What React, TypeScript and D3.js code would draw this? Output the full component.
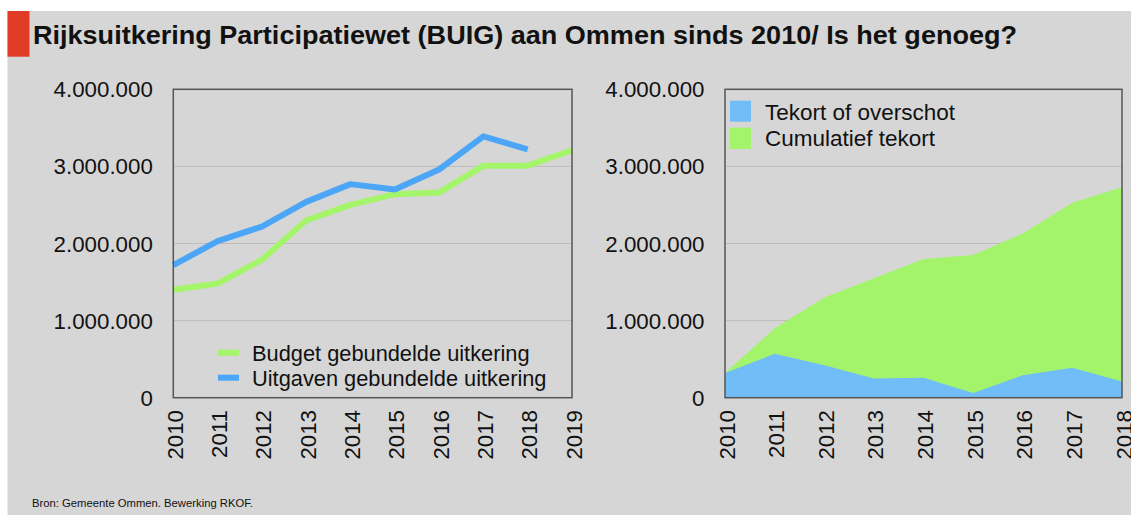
import React from 'react';
import * as d3 from 'd3';

// ---- Data ----
const yearsLeft = [2010, 2011, 2012, 2013, 2014, 2015, 2016, 2017, 2018, 2019];
const budget = [1400000, 1480000, 1790000, 2300000, 2500000, 2640000, 2660000, 3010000, 3010000, 3210000];
const uitgaven = [1720000, 2030000, 2220000, 2540000, 2770000, 2700000, 2960000, 3390000, 3220000];

const yearsRight = [2010, 2011, 2012, 2013, 2014, 2015, 2016, 2017, 2018];
const tekortOverschot = [320000, 570000, 420000, 250000, 260000, 60000, 290000, 390000, 210000];
const cumulatiefTekort = [320000, 900000, 1300000, 1550000, 1800000, 1850000, 2130000, 2530000, 2730000];

const yTicks = [0, 1000000, 2000000, 3000000, 4000000];

const title = 'Rijksuitkering Participatiewet (BUIG) aan Ommen sinds 2010/ Is het genoeg?';
const source = 'Bron: Gemeente Ommen. Bewerking RKOF.';
const legendLeft = ['Budget gebundelde uitkering', 'Uitgaven gebundelde uitkering'];
const legendRight = ['Tekort of overschot', 'Cumulatief tekort'];

// ---- Style ----
const FONT = '"Liberation Sans", Arial, Helvetica, sans-serif';
const BG = '#d6d6d6';
const RED = '#e03c26';
const LINE_GREEN = '#a4f56a';
const LINE_BLUE = '#4ba6f8';
const AREA_GREEN = '#a3f46a';
const AREA_BLUE = '#71bdf7';
const GRID = '#bdbdbd';
const BORDER = '#555555';
const TEXT = '#111111';

const locale = d3.formatLocale({ decimal: ',', thousands: '.', grouping: [3], currency: ['€', ''] });
const fmt = locale.format(',d');

const TOP = 89.3;
const BOTTOM = 397.7;

function Panel({ x0, x1, years, children }: { x0: number; x1: number; years: number[]; children: (x: d3.ScaleLinear<number, number>, y: d3.ScaleLinear<number, number>) => React.ReactNode }) {
  const x = d3.scaleLinear().domain([years[0], years[years.length - 1]]).range([x0, x1]);
  const y = d3.scaleLinear().domain([0, 4000000]).range([BOTTOM, TOP]);
  return (
    <g>
      {yTicks.filter((t) => t > 0 && t < 4000000).map((t) => (
        <line key={t} x1={x0} x2={x1} y1={y(t)} y2={y(t)} stroke={GRID} strokeWidth={1} />
      ))}
      {children(x, y)}
      <rect x={x0} y={TOP} width={x1 - x0} height={BOTTOM - TOP} fill="none" stroke={BORDER} strokeWidth={1.5} />
      {yTicks.map((t) => (
        <text key={t} x={x0 - 20.5} y={y(t)} dy="0.36em" textAnchor="end" fontSize={22.3} fill={TEXT} fontFamily={FONT}>
          {fmt(t)}
        </text>
      ))}
      {years.map((yr) => (
        <text
          key={yr}
          transform={`translate(${x(yr) + 1.5},${410}) rotate(-90)`}
          dy="0.36em"
          textAnchor="end"
          fontSize={22.3}
          fill={TEXT}
          fontFamily={FONT}
        >
          {yr}
        </text>
      ))}
    </g>
  );
}

export default function App() {
  return (
    <svg width={1131} height={515} style={{ position: 'absolute', left: 0, top: 0, background: '#ffffff' }}>
      <rect x={7.5} y={11} width={1131 - 7.5} height={515 - 11} fill={BG} />
      <rect x={7.5} y={11} width={22} height={45.7} fill={RED} />
      <text x={33} y={43.5} fontSize={26} fontWeight="bold" fill={TEXT} fontFamily={FONT} textLength={984} lengthAdjust="spacingAndGlyphs">
        {title}
      </text>

      <Panel x0={173.3} x1={572} years={yearsLeft}>
        {(x, y) => {
          const line = d3.line<number>().x((_, i) => x(yearsLeft[i])).y((d) => y(d));
          return (
            <g>
              <path d={line(budget) || ''} fill="none" stroke={LINE_GREEN} strokeWidth={6} strokeLinejoin="round" />
              <path d={line(uitgaven) || ''} fill="none" stroke={LINE_BLUE} strokeWidth={6} strokeLinejoin="round" />
              <line x1={218} x2={239} y1={352.7} y2={352.7} stroke={LINE_GREEN} strokeWidth={6} />
              <line x1={218} x2={239} y1={377.7} y2={377.7} stroke={LINE_BLUE} strokeWidth={6} />
              <text x={252} y={360.5} fontSize={21.8} fill={TEXT} fontFamily={FONT}>{legendLeft[0]}</text>
              <text x={252} y={385.5} fontSize={21.8} fill={TEXT} fontFamily={FONT}>{legendLeft[1]}</text>
            </g>
          );
        }}
      </Panel>

      <Panel x0={725} x1={1122} years={yearsRight}>
        {(x, y) => {
          const area = d3.area<number>().x((_, i) => x(yearsRight[i])).y0(y(0)).y1((d) => y(d));
          return (
            <g>
              <path d={area(cumulatiefTekort) || ''} fill={AREA_GREEN} />
              <path d={area(tekortOverschot) || ''} fill={AREA_BLUE} />
              <rect x={730} y={100.7} width={21} height={21} fill={AREA_BLUE} />
              <rect x={730} y={127.7} width={21} height={21.3} fill={AREA_GREEN} />
              <text x={765} y={119.5} fontSize={22.5} fill={TEXT} fontFamily={FONT}>{legendRight[0]}</text>
              <text x={765} y={146.3} fontSize={22.5} fill={TEXT} fontFamily={FONT}>{legendRight[1]}</text>
            </g>
          );
        }}
      </Panel>

      <text x={32} y={507} fontSize={11.3} fill={TEXT} fontFamily={FONT} textLength={221} lengthAdjust="spacingAndGlyphs">
        {source}
      </text>
    </svg>
  );
}
